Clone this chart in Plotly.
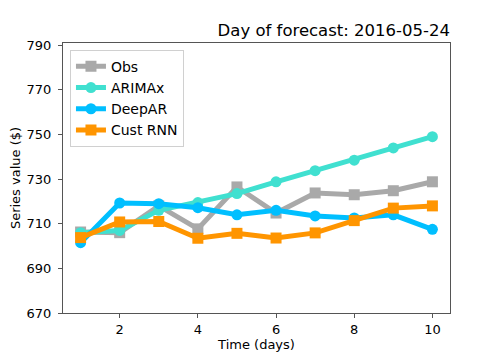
import plotly.graph_objects as go

days = [1, 2, 3, 4, 5, 6, 7, 8, 9, 10]
obs = [706.3, 706.0, 718.0, 707.7, 726.5, 714.8, 723.8, 723.0, 724.8, 728.8]
arimax = [706.0, 707.0, 716.0, 719.5, 723.5, 728.8, 733.8, 738.5, 744.0, 749.0]
deepar = [701.5, 719.3, 719.0, 717.2, 714.0, 716.0, 713.5, 712.6, 714.0, 707.5]
cust_rnn = [703.8, 710.8, 711.0, 703.5, 705.7, 703.6, 705.9, 711.4, 717.0, 718.0]

y_ticks = [670, 690, 710, 730, 750, 770, 790]
x_ticks = [2, 4, 6, 8, 10]

series = [
    ("Obs", obs, "#a9a9a9", "square"),
    ("ARIMAx", arimax, "#40e0d0", "circle"),
    ("DeepAR", deepar, "#00bfff", "circle"),
    ("Cust RNN", cust_rnn, "#ff9500", "square"),
]

fig = go.Figure()
for name, vals, color, symbol in series:
    fig.add_trace(go.Scatter(
        x=days, y=vals, name=name, mode="lines+markers",
        line=dict(color=color, width=5),
        marker=dict(color=color, symbol=symbol, size=11),
    ))

axis_common = dict(
    showgrid=False, zeroline=False, showline=True, linecolor="#555",
    linewidth=1, mirror=True, ticks="outside", ticklen=4, tickcolor="#555",
    tickfont=dict(size=13, color="black"), automargin=False,
)

# page body has an 8px margin, so the figure is offset by (8, 8)
fig.update_layout(
    width=500, height=357,
    margin=dict(l=55, r=58, t=35, b=52),
    plot_bgcolor="white", paper_bgcolor="white",
    font=dict(family="DejaVu Sans", color="black"),
    title=dict(text="Day of forecast: 2016-05-24", font=dict(size=16.5),
               xref="paper", x=1, xanchor="right",
               yref="container", y=0.938, yanchor="middle", automargin=False),
    xaxis=dict(range=[0.55, 10.45], tickvals=x_ticks,
               title=dict(text="Time (days)", font=dict(size=13), standoff=4),
               **axis_common),
    yaxis=dict(range=[670, 791], tickvals=y_ticks, ticklabelstandoff=4,
               title=dict(text="Series value ($)", font=dict(size=13), standoff=8),
               **axis_common),
    legend=dict(x=0.018, y=0.975, xanchor="left", yanchor="top",
                bgcolor="white", bordercolor="#d0d0d0", borderwidth=1,
                font=dict(size=14), tracegroupgap=0, itemwidth=30),
    showlegend=True,
)

fig.write_html("out.html")
